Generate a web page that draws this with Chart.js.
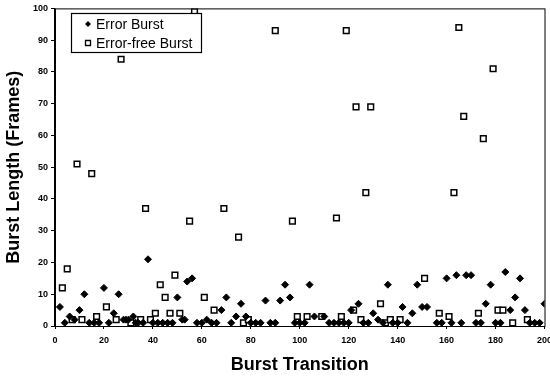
<!DOCTYPE html>
<html>
<head>
<meta charset="utf-8">
<script src="https://cdn.jsdelivr.net/npm/chart.js@4.4.1/dist/chart.umd.min.js"></script>
<style>
  html, body { margin: 0; padding: 0; background: #fff; }
  #wrap { width: 550px; height: 377px; }
</style>
</head>
<body>
<div id="wrap"><canvas id="burstChart" width="550" height="377"></canvas></div>
<script>
// error bursts: transition index / length in frames
var errX = [2, 4, 6, 8, 10, 12, 14, 16, 18, 20, 22, 24, 26, 28, 29, 30, 32, 33, 34, 36,
            38, 40, 42, 44, 46, 48, 50, 52, 53, 54, 56, 58, 60, 62, 64, 66, 68, 70, 72, 74,
            76, 78, 80, 82, 84, 86, 88, 90, 92, 94, 96, 98, 100, 102, 104, 106, 110, 112, 114, 116,
            118, 120, 121, 124, 126, 128, 130, 132, 134, 136, 138, 140, 142, 144, 146, 148, 150, 152, 156, 158,
            160, 162, 164, 166, 168, 170, 172, 174, 176, 178, 180, 182, 184, 186, 188, 190, 192, 194, 196, 198, 200];
var errY = [6, 1, 3, 2, 5, 10, 1, 1, 1, 12, 1, 4, 10, 2, 2, 2, 3, 1, 1, 1,
            21, 1, 1, 1, 1, 1, 9, 2, 2, 14, 15, 1, 1, 2, 1, 1, 5, 9, 1, 3,
            7, 3, 1, 1, 1, 8, 1, 1, 8, 13, 9, 1, 1, 1, 13, 3, 3, 1, 1, 1,
            1, 1, 5, 7, 1, 1, 4, 2, 1, 13, 1, 1, 6, 1, 4, 13, 6, 6, 1, 1,
            15, 1, 16, 1, 16, 16, 1, 1, 7, 13, 1, 1, 17, 5, 9, 15, 5, 1, 1, 1, 7];

// error-free bursts
var freeX = [3, 5, 7, 9, 11, 15, 17, 21, 25, 27, 31, 35, 37, 39, 41, 43, 45, 47, 49, 51,
             55, 57, 61, 65, 69, 75, 77, 79, 90, 97, 99, 103, 109, 115, 117, 119, 122, 123, 125, 127,
             129, 133, 135, 137, 141, 151, 157, 161, 163, 165, 167, 173, 175, 179, 181, 183, 187, 193];
var freeY = [12, 18, 2, 51, 2, 48, 3, 6, 2, 84, 1, 2, 37, 2, 4, 13, 9, 4, 16, 4,
             33, 99, 9, 5, 37, 28, 1, 2, 93, 33, 3, 3, 3, 34, 3, 93, 5, 69, 2, 42,
             69, 7, 1, 2, 2, 15, 4, 3, 42, 94, 66, 4, 59, 81, 5, 5, 1, 2];

var xTicks = [0, 20, 40, 60, 80, 100, 120, 140, 160, 180, 200];
var yTicks = [0, 10, 20, 30, 40, 50, 60, 70, 80, 90, 100];

function toPoints(xs, ys) {
    return xs.map(function(x, i) { return {x: x, y: ys[i]}; });
}

// frame round the plot + legend box drawn inside the plot
var framePlugin = {
    id: 'frame',
    afterDraw: function(chart) {
        var ctx = chart.ctx;
        var a = chart.chartArea;
        ctx.save();
        ctx.strokeStyle = '#000';
        ctx.lineWidth = 1;
        ctx.strokeRect(a.left + 0.5, a.top + 0.5, a.right - a.left, a.bottom - a.top);

        // legend
        var bx = 71, by = 13, bw = 130, bh = 39;
        ctx.fillStyle = '#fff';
        ctx.fillRect(bx, by, bw, bh);
        ctx.lineWidth = 1.2;
        ctx.strokeRect(bx + 0.5, by + 0.5, bw, bh);
        ctx.font = '14px "Liberation Sans", Arial, sans-serif';
        ctx.textBaseline = 'middle';
        ctx.fillStyle = '#000';
        chart.data.datasets.forEach(function(ds, i) {
            var cy = by + 11 + i * 19;
            var cx = 88;
            ctx.beginPath();
            if (ds.pointStyle === 'rectRot') {
                ctx.moveTo(cx, cy - 3);
                ctx.lineTo(cx + 3, cy);
                ctx.lineTo(cx, cy + 3);
                ctx.lineTo(cx - 3, cy);
                ctx.closePath();
                ctx.fill();
            } else {
                ctx.lineWidth = 1.3;
                ctx.rect(cx - 2.5, cy - 2.5, 5, 5);
                ctx.stroke();
            }
            ctx.fillText(ds.label, 96, cy + 1);
        });
        ctx.restore();
    }
};

var ctx = document.getElementById('burstChart');
new Chart(ctx, {
    type: 'scatter',
    data: {
        datasets: [{
            label: 'Error Burst',
            data: toPoints(errX, errY),
            pointStyle: 'rectRot',
            pointRadius: 3.5,
            backgroundColor: '#000',
            borderColor: '#000',
            borderWidth: 1
        }, {
            label: 'Error-free Burst',
            data: toPoints(freeX, freeY),
            pointStyle: 'rect',
            pointRadius: 4,
            backgroundColor: '#fff',
            borderColor: '#000',
            borderWidth: 1.5
        }]
    },
    options: {
        responsive: false,
        animation: false,
        layout: { padding: { top: 6, right: 5, left: 0, bottom: 0 } },
        plugins: {
            legend: { display: false },
            tooltip: { enabled: false }
        },
        scales: {
            x: {
                type: 'linear',
                min: 0,
                max: 200,
                afterBuildTicks: function(scale) {
                    scale.ticks = xTicks.map(function(v) { return {value: v}; });
                },
                afterFit: function(scale) {
                    scale.height = 51;
                    scale.paddingRight = 0;
                    scale.paddingLeft = 0;
                },
                grid: { drawOnChartArea: false, tickLength: 3, color: '#000' },
                border: { display: true, color: '#000', width: 1 },
                ticks: {
                    color: '#000',
                    maxRotation: 0,
                    padding: 6,
                    font: { family: '"Liberation Sans", Arial, sans-serif', size: 9, weight: 'bold' }
                },
                title: {
                    display: true,
                    text: 'Burst Transition',
                    color: '#000',
                    padding: { top: 4, bottom: 1 },
                    font: { family: '"Liberation Sans", Arial, sans-serif', size: 18, weight: 'bold' }
                }
            },
            y: {
                type: 'linear',
                min: 0,
                max: 100,
                afterBuildTicks: function(scale) {
                    scale.ticks = yTicks.map(function(v) { return {value: v}; });
                },
                afterFit: function(scale) {
                    scale.width = 55;
                },
                grid: { drawOnChartArea: false, tickLength: 4, color: '#000' },
                border: { display: true, color: '#000', width: 1.5 },
                ticks: {
                    color: '#000',
                    padding: 3,
                    font: { family: '"Liberation Sans", Arial, sans-serif', size: 9, weight: 'bold' }
                },
                title: {
                    display: true,
                    text: 'Burst Length (Frames)',
                    color: '#000',
                    padding: { top: 3, bottom: 0 },
                    font: { family: '"Liberation Sans", Arial, sans-serif', size: 18, weight: 'bold' }
                }
            }
        }
    },
    plugins: [framePlugin]
});
</script>
</body>
</html>
